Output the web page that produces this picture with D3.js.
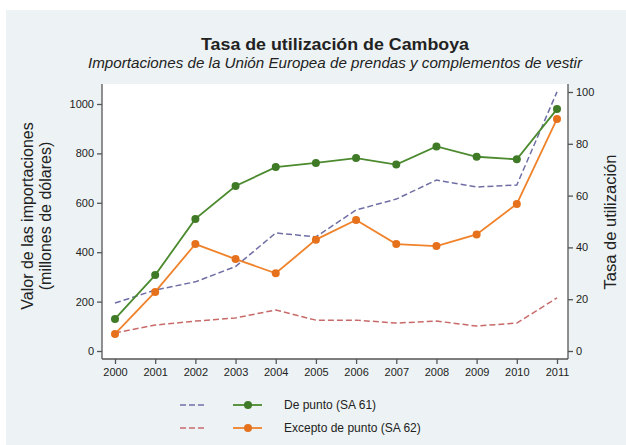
<!DOCTYPE html>
<html>
<head>
<meta charset="utf-8">
<script src="https://cdn.jsdelivr.net/npm/d3@7"></script>
<style>
  body { margin: 0; background: #fff; }
  svg text { font-family: "Liberation Sans", Arial, sans-serif; fill: #222; }
</style>
</head>
<body>
<svg id="chart" width="626" height="445"></svg>
<script>
/* Data */
var years = [2000, 2001, 2002, 2003, 2004, 2005, 2006, 2007, 2008, 2009, 2010, 2011];
// import values (left axis, millions of dollars)
var importsKnit = [194, 247, 280, 342, 478, 462, 571, 615, 692, 664, 672, 1049];
var importsNonKnit = [73, 105, 121, 134, 166, 125, 125, 113, 121, 101, 113, 215];
// utilisation rate (right axis, %)
var rateKnit = [12.4, 29.3, 51, 63.7, 71, 72.6, 74.5, 72, 79, 75, 74, 93.4];
var rateNonKnit = [6.6, 22.8, 41.3, 35.5, 30, 43, 50.6, 41.3, 40.5, 45, 56.8, 89.6];
var leftTicks = [0, 200, 400, 600, 800, 1000];
var rightTicks = [0, 20, 40, 60, 80, 100];
var legendLabels = ["De punto (SA 61)", "Excepto de punto (SA 62)"];

var purple = "#6f6fa6", red = "#c86a6a", green = "#4b8a2e", orange = "#f0822a";

var svg = d3.select("#chart");

/* backgrounds */
svg.append("rect").attr("x", 6).attr("y", 10).attr("width", 620).attr("height", 435)
    .attr("fill", "#edf3f4");
svg.append("rect").attr("x", 102).attr("y", 84).attr("width", 466).attr("height", 275)
    .attr("fill", "#ffffff");

var x = d3.scaleLinear().domain([2000, 2011]).range([115, 557]);
var yL = d3.scaleLinear().domain([0, 1000]).range([351, 104]);
var yR = d3.scaleLinear().domain([0, 100]).range([351, 92]);

/* axes */
svg.append("g")
    .attr("transform", "translate(102,0)")
    .call(d3.axisLeft(yL).tickValues(leftTicks).tickFormat(d3.format("d")).tickSize(5).tickPadding(3))
    .call(g => g.select(".domain").attr("d", "M0,84V359"));
svg.append("g")
    .attr("transform", "translate(568,0)")
    .call(d3.axisRight(yR).tickValues(rightTicks).tickSize(5).tickPadding(3))
    .call(g => g.select(".domain").attr("d", "M0,84V359"));
svg.append("g")
    .attr("transform", "translate(0,359)")
    .call(d3.axisBottom(x).tickValues(years).tickFormat(d3.format("d")).tickSize(5).tickPadding(4))
    .call(g => g.select(".domain").attr("d", "M102,0H568"));

svg.selectAll(".tick text").style("font-size", "11px");
svg.selectAll(".domain, .tick line").attr("stroke", "#555").attr("stroke-width", 1.3);

/* lines */
var lineL = d3.line().x((d, i) => x(years[i])).y(d => yL(d));
var lineR = d3.line().x((d, i) => x(years[i])).y(d => yR(d));

svg.append("path").datum(importsNonKnit).attr("d", lineL)
    .attr("fill", "none").attr("stroke", red).attr("stroke-width", 1.5).attr("stroke-dasharray", "6,3");
svg.append("path").datum(importsKnit).attr("d", lineL)
    .attr("fill", "none").attr("stroke", purple).attr("stroke-width", 1.5).attr("stroke-dasharray", "6,3");

svg.append("path").datum(rateKnit).attr("d", lineR)
    .attr("fill", "none").attr("stroke", green).attr("stroke-width", 1.8);
svg.append("path").datum(rateNonKnit).attr("d", lineR)
    .attr("fill", "none").attr("stroke", orange).attr("stroke-width", 1.8);

svg.selectAll("circle.knit").data(rateKnit).enter().append("circle")
    .attr("class", "knit")
    .attr("cx", (d, i) => x(years[i])).attr("cy", d => yR(d)).attr("r", 4)
    .attr("fill", "#3f7a26");
svg.selectAll("circle.nonknit").data(rateNonKnit).enter().append("circle")
    .attr("class", "nonknit")
    .attr("cx", (d, i) => x(years[i])).attr("cy", d => yR(d)).attr("r", 4)
    .attr("fill", "#e6711c");

/* titles */
svg.append("text").attr("x", 335).attr("y", 50).attr("text-anchor", "middle")
    .style("font-size", "17px").style("font-weight", "bold")
    .attr("textLength", 268).attr("lengthAdjust", "spacingAndGlyphs")
    .text("Tasa de utilización de Camboya");
svg.append("text").attr("x", 335).attr("y", 68).attr("text-anchor", "middle")
    .style("font-size", "14px").style("font-style", "italic")
    .attr("textLength", 494).attr("lengthAdjust", "spacingAndGlyphs")
    .text("Importaciones de la Unión Europea de prendas y complementos de vestir");

svg.append("text").attr("transform", "translate(33,216) rotate(-90)")
    .attr("text-anchor", "middle").style("font-size", "16px")
    .text("Valor de las importaciones");
svg.append("text").attr("transform", "translate(51,216) rotate(-90)")
    .attr("text-anchor", "middle").style("font-size", "16px")
    .text("(millones de dólares)");
svg.append("text").attr("transform", "translate(616,222) rotate(-90)")
    .attr("text-anchor", "middle").style("font-size", "16.5px")
    .text("Tasa de utilización");

/* legend */
var legend = svg.append("g");
var legendRows = [
    {label: legendLabels[0], dash: purple, solid: green, dot: "#3f7a26", y: 405},
    {label: legendLabels[1], dash: red, solid: orange, dot: "#e6711c", y: 428}
];
legendRows.forEach(function(r) {
    legend.append("line").attr("x1", 180).attr("x2", 206).attr("y1", r.y).attr("y2", r.y)
        .attr("stroke", r.dash).attr("stroke-width", 1.5).attr("stroke-dasharray", "6,3");
    legend.append("line").attr("x1", 233).attr("x2", 262).attr("y1", r.y).attr("y2", r.y)
        .attr("stroke", r.solid).attr("stroke-width", 1.8);
    legend.append("circle").attr("cx", 248).attr("cy", r.y).attr("r", 4).attr("fill", r.dot);
    legend.append("text").attr("x", 284).attr("y", r.y + 4).style("font-size", "12px").text(r.label);
});
</script>
</body>
</html>
